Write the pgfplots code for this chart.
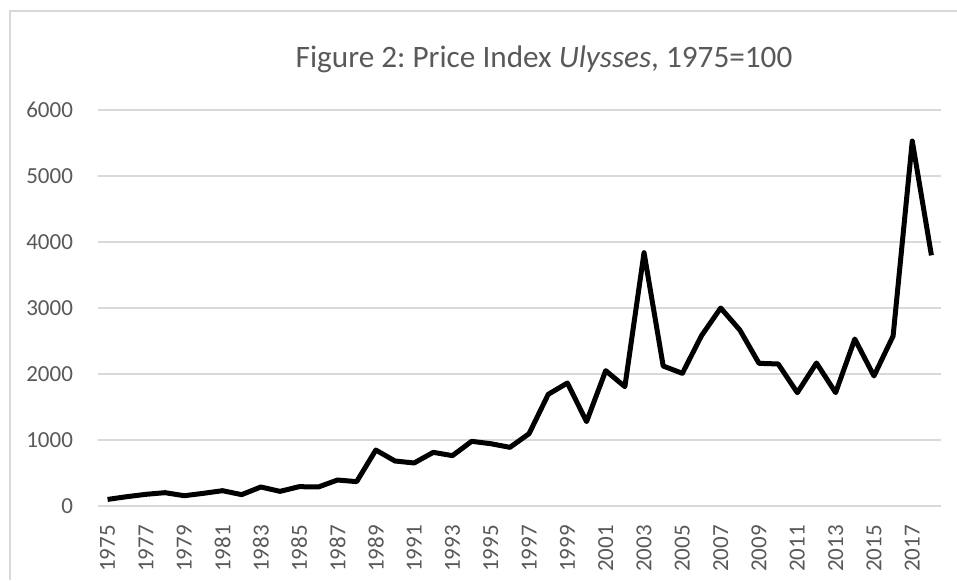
\documentclass[border=0pt]{standalone}
\usepackage{fontspec}
\setmainfont{Carlito}
\usepackage{pgfplots}
\pgfplotsset{compat=1.18}
\definecolor{txtgray}{HTML}{595959}
\definecolor{gridgray}{HTML}{D9D9D9}
\frenchspacing
\begin{document}
\begin{tikzpicture}
\path[use as bounding box] (0,0) rectangle (478.5pt,290pt);
\draw[gridgray, line width=0.75pt] (5pt,0) -- (5pt,284.5pt) -- (478.5pt,284.5pt);
\node[txtgray, font=\fontsize{15.6}{18}\selectfont] at (272pt,260.5pt) {Figure 2: Price Index \textit{Ulysses}, 1975=100};
\begin{axis}[
  at={(49pt,37pt)}, anchor=south west,
  width=421.5pt, height=198pt, scale only axis,
  xmin=1974.5, xmax=2018.5,
  ymin=0, ymax=6000,
  ytick={0,1000,...,6000},
  xtick={1975,1977,...,2017},
  xticklabel style={rotate=90, anchor=east, font=\fontsize{11.5}{13}\selectfont, text=txtgray},
  yticklabel style={font=\fontsize{11.5}{13}\selectfont, text=txtgray},
  xticklabel={\pgfmathprintnumber[1000 sep={}]{\tick}},
  /pgf/number format/assume math mode=true,
  /pgf/number format/1000 sep={},
  major tick length=0pt,
  ymajorgrids, grid style={gridgray, line width=0.75pt},
  axis x line*=bottom, axis y line*=left,
  x axis line style={gridgray, line width=0.75pt, -},
  y axis line style={draw=none},
  xticklabel shift=6pt, yticklabel shift=9pt,
  clip=false,
]
\addplot[black, line width=2.5pt, line join=round] coordinates {
(1975,100) (1976,141) (1977,177) (1978,202) (1979,156) (1980,192)
(1981,232) (1982,172) (1983,288) (1984,222) (1985,293) (1986,288)
(1987,394) (1988,369) (1989,848) (1990,682) (1991,652) (1992,813)
(1993,763) (1994,980) (1995,944) (1996,889) (1997,1096) (1998,1692)
(1999,1864) (2000,1278) (2001,2051) (2002,1808) (2003,3838) (2004,2121)
(2005,2010) (2006,2581) (2007,3000) (2008,2667) (2009,2162) (2010,2152)
(2011,1717) (2012,2167) (2013,1717) (2014,2530) (2015,1970) (2016,2576)
(2017,5530) (2018,3798)
};
\end{axis}
\end{tikzpicture}
\end{document}
